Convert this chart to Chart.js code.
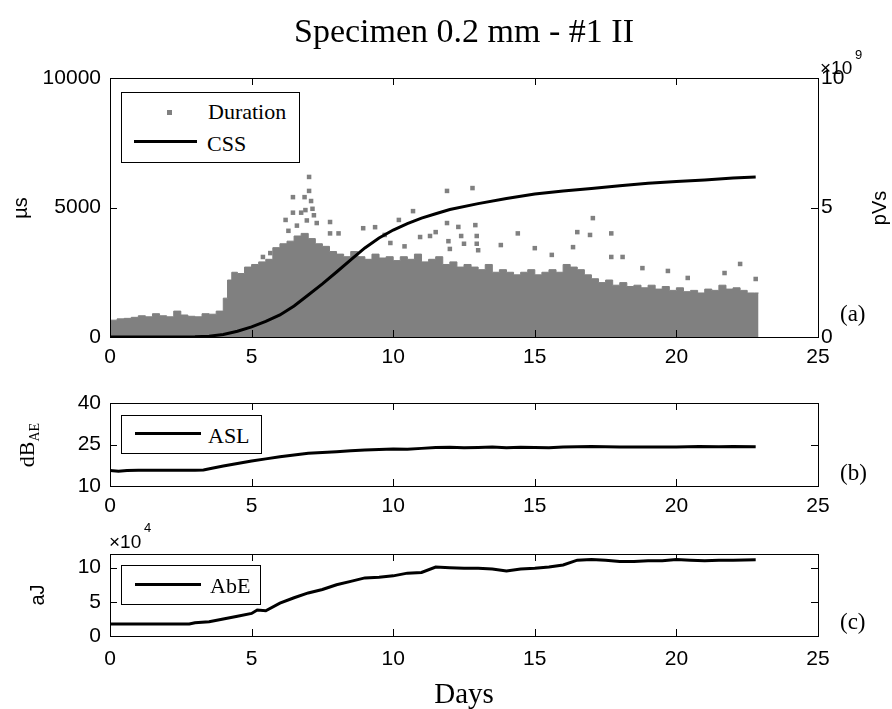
<!DOCTYPE html>
<html>
<head>
<meta charset="utf-8">
<script src="https://cdn.jsdelivr.net/npm/chart.js@4.4.1/dist/chart.umd.min.js"></script>
<style>
body { margin: 0; background: #fff; }
#wrap { position: relative; width: 892px; height: 709px; overflow: hidden; background: #fff; }
canvas { position: absolute; left: 0; }
.t { position: absolute; white-space: nowrap; color: #000; line-height: 1; }
.serif { font-family: 'Liberation Serif', 'Times New Roman', serif; }
.sans { font-family: 'Liberation Sans', Arial, sans-serif; }
.vert { transform: translate(-50%, -50%) rotate(-90deg); }
.mid { transform: translateY(-50%); }
.legend { position: absolute; border: 1px solid #000; background: #fff; box-sizing: border-box; z-index: 2; }
.legend .ln { position: absolute; height: 3px; background: #000; }
.legend .sq { position: absolute; width: 5px; height: 5px; background: #808080; }
.legend .t { font-size: 22px; }
</style>
</head>
<body>
<div id="wrap">
  <canvas id="cA" width="892" height="370" style="top:0"></canvas>
  <canvas id="cB" width="892" height="140" style="top:380px"></canvas>
  <canvas id="cC" width="892" height="150" style="top:530px"></canvas>

  <div class="t serif" style="left:0;width:928px;text-align:center;top:14px;font-size:34px;">Specimen 0.2 mm - #1 II</div>

  <div class="t sans vert" style="left:20px;top:208px;font-size:20px;">µs</div>
  <div class="t sans vert" style="left:879px;top:208px;font-size:20px;">pVs</div>
  <div class="t serif vert" style="left:29px;top:445px;font-size:22px;">dB<sub style="font-size:14px;">AE</sub></div>
  <div class="t sans vert" style="left:37px;top:595px;font-size:20px;">aJ</div>

  <div class="t sans" style="left:820px;top:58px;font-size:19px;">×10</div>
  <div class="t sans" style="left:855px;top:48px;font-size:13px;">9</div>
  <div class="t sans" style="left:109px;top:532px;font-size:19px;">×10</div>
  <div class="t sans" style="left:144px;top:521px;font-size:13px;">4</div>

  <div class="t serif mid" style="left:840px;top:313px;font-size:23px;">(a)</div>
  <div class="t serif mid" style="left:840px;top:472px;font-size:23px;">(b)</div>
  <div class="t serif mid" style="left:840px;top:621px;font-size:23px;">(c)</div>

  <div class="t serif" style="left:0;width:928px;text-align:center;top:679px;font-size:29px;">Days</div>

  <div class="legend" style="left:121px;top:92px;width:179px;height:71px;">
    <div class="sq" style="left:45px;top:17px;"></div>
    <div class="t serif mid" id="legA1" style="left:86px;top:19px;"></div>
    <div class="ln" style="left:12px;top:47px;width:63px;"></div>
    <div class="t serif mid" id="legA2" style="left:85px;top:51px;"></div>
  </div>
  <div class="legend" style="left:121px;top:415px;width:141px;height:39px;">
    <div class="ln" style="left:13px;top:16px;width:66px;"></div>
    <div class="t serif mid" id="legB" style="left:86px;top:20px;"></div>
  </div>
  <div class="legend" style="left:121px;top:565px;width:140px;height:40px;">
    <div class="ln" style="left:13px;top:17px;width:66px;"></div>
    <div class="t serif mid" id="legC" style="left:88px;top:20px;"></div>
  </div>
</div>

<script>
// tick values
const xTicks = [0, 5, 10, 15, 20, 25];
const durTicks = [0, 5000, 10000];
const cssTicks = [0, 5, 10];
const aslTicks = [10, 25, 40];
const abeTicks = [0, 5, 10];

// Duration: top edge of the dense cloud (µs)
const durDays = [0, 0.25, 0.5, 0.75, 1, 1.25, 1.5, 1.75, 2, 2.25, 2.5, 2.75, 3, 3.25, 3.5, 3.75, 4, 4.15,
  4.3, 4.5, 4.75, 5, 5.25, 5.5, 5.75, 6, 6.25, 6.5, 6.75, 7, 7.25, 7.5, 7.75, 8, 8.25, 8.5, 8.75, 9,
  9.25, 9.5, 9.75, 10, 10.25, 10.5, 10.75, 11, 11.25, 11.5, 11.75, 12, 12.25, 12.5, 12.75, 13, 13.25,
  13.5, 13.75, 14, 14.25, 14.5, 14.75, 15, 15.25, 15.5, 15.75, 16, 16.25, 16.5, 16.75, 17, 17.25, 17.5,
  17.75, 18, 18.25, 18.5, 18.75, 19, 19.25, 19.5, 19.75, 20, 20.25, 20.5, 20.75, 21, 21.25, 21.5, 21.75,
  22, 22.25, 22.5, 22.75, 22.9];
const durTop = [850, 650, 700, 720, 760, 820, 780, 900, 820, 780, 1000, 850, 800, 780, 900, 880, 1000, 1500,
  2200, 2500, 2450, 2700, 2800, 2900, 3000, 3450, 3600, 3700, 3900, 4000, 3800, 3600, 3500, 3300, 3200, 3100, 3300, 3100,
  3000, 3200, 3050, 3100, 2950, 3100, 3000, 3200, 2900, 3000, 3100, 2800, 2900, 2700, 2800, 2700, 2600,
  2800, 2500, 2600, 2500, 2400, 2500, 2600, 2400, 2500, 2600, 2500, 2800, 2700, 2600, 2400, 2250, 2100,
  2200, 2000, 2100, 1950, 2000, 1900, 2000, 1850, 1950, 1800, 1900, 1750, 1800, 1700, 1850, 1800, 2000,
  1850, 1900, 1800, 1700, 1700];

// Duration: isolated points above the cloud
const outDays = [5.4, 5.66, 6.2, 6.3, 6.46, 6.6, 6.75, 6.46, 6.87, 6.9, 6.95, 7.1, 7.15, 7.03, 7.03, 7.2, 7.3,
  7.77, 7.77, 8.07, 8.94, 9.36, 9.7, 9.9, 10.2, 10.4, 10.7, 10.95, 11.3, 11.5, 11.9, 11.9, 11.95, 12.0,
  12.3, 12.4, 12.5, 12.8, 12.9, 12.95, 12.95, 13.0, 13.8, 14.4, 15.0, 15.6, 16.35, 16.5, 16.95, 17.05,
  17.7, 17.7, 18.1, 18.8, 19.7, 20.4, 21.7, 22.25, 22.8];
const outVals = [3090, 3240, 4520, 4100, 4800, 4300, 4800, 5400, 5400, 4900, 4500, 5250, 4950, 5640, 6180, 4700, 4400,
  4440, 4000, 4000, 4200, 4240, 3940, 3630, 4520, 3500, 4860, 3860, 3900, 4050, 5640, 4400, 3700, 3400,
  4250, 3900, 3600, 5750, 4320, 3900, 3600, 3350, 3550, 4000, 3430, 3170, 3470, 4050, 3940, 4590,
  4000, 3090, 3090, 2660, 2550, 2280, 2470, 2820, 2240];

// CSS (×10^9 pVs)
const cssDays = [0, 1, 2, 3, 3.5, 4, 4.5, 5, 5.5, 6, 6.5, 7, 7.5, 8, 8.5, 9, 9.5, 10, 10.5, 11, 11.5, 12,
  13, 14, 15, 16, 17, 18, 19, 20, 21, 22, 22.8];
const cssVals = [0, 0, 0, 0.01, 0.03, 0.1, 0.22, 0.39, 0.6, 0.85, 1.2, 1.62, 2.05, 2.51, 2.98, 3.44, 3.82, 4.13,
  4.38, 4.59, 4.76, 4.92, 5.15, 5.35, 5.52, 5.64, 5.73, 5.84, 5.94, 6.0, 6.06, 6.14, 6.18];

// ASL (dB_AE)
const aslDays = [0, 0.3, 0.6, 1, 2, 3, 3.3, 3.6, 4, 4.5, 5, 5.5, 6, 6.5, 7, 7.5, 8, 8.5, 9, 9.5, 10, 10.5,
  11, 11.5, 12, 12.5, 13, 13.5, 14, 14.5, 15, 15.5, 16, 16.5, 17, 18, 19, 20, 20.8, 21.5, 22, 22.8];
const aslVals = [15.6, 15.3, 15.6, 15.7, 15.7, 15.7, 15.8, 16.4, 17.2, 18.1, 19.0, 19.8, 20.6, 21.2, 21.8, 22.1,
  22.4, 22.7, 23.0, 23.2, 23.4, 23.3, 23.6, 23.9, 24.0, 23.8, 23.9, 24.1, 23.8, 24.0, 23.9, 23.8, 24.1,
  24.2, 24.3, 24.1, 24.1, 24.1, 24.3, 24.2, 24.3, 24.2];

// AbE (×10^4 aJ)
const abeDays = [0, 1, 2, 2.8, 3, 3.5, 4, 4.5, 5, 5.2, 5.5, 6, 6.5, 7, 7.5, 8, 8.5, 9, 9.5, 10, 10.5, 11,
  11.5, 12, 12.5, 13, 13.5, 14, 14.5, 15, 15.5, 16, 16.5, 17, 17.5, 18, 18.5, 19, 19.5, 20, 20.5, 21, 21.5,
  22, 22.8];
const abeVals = [1.75, 1.75, 1.75, 1.75, 1.95, 2.1, 2.5, 2.9, 3.3, 3.8, 3.7, 4.8, 5.6, 6.3, 6.8, 7.5, 8.0, 8.5,
  8.6, 8.8, 9.2, 9.3, 10.1, 10.0, 9.9, 9.9, 9.8, 9.5, 9.8, 9.9, 10.1, 10.4, 11.1, 11.2, 11.1, 10.9, 10.9,
  11.0, 11.0, 11.2, 11.1, 11.0, 11.1, 11.1, 11.15];

const pts = (xs, ys) => xs.map((x, i) => ({ x, y: ys[i] }));
const tickFont = { family: "'Liberation Sans', Arial, sans-serif", size: 21 };

// MATLAB style box with inward ticks
const boxTicks = {
  id: 'boxTicks',
  afterDatasetsDraw(chart) {
    const { ctx, chartArea: a, scales } = chart;
    const L = 7;
    ctx.save();
    ctx.strokeStyle = '#000';
    ctx.lineWidth = 1;
    const seg = (x1, y1, x2, y2) => { ctx.beginPath(); ctx.moveTo(x1, y1); ctx.lineTo(x2, y2); ctx.stroke(); };
    scales.x.ticks.forEach(t => {
      const px = Math.round(scales.x.getPixelForValue(t.value)) + 0.5;
      seg(px, a.bottom, px, a.bottom - L);
      seg(px, a.top, px, a.top + L);
    });
    scales.y.ticks.forEach(t => {
      const py = Math.round(scales.y.getPixelForValue(t.value)) + 0.5;
      seg(a.left, py, a.left + L, py);
      if (!scales.y1) seg(a.right, py, a.right - L, py);
    });
    if (scales.y1) {
      scales.y1.ticks.forEach(t => {
        const py = Math.round(scales.y1.getPixelForValue(t.value)) + 0.5;
        seg(a.right, py, a.right - L, py);
      });
    }
    ctx.strokeRect(Math.round(a.left) + 0.5, Math.round(a.top) + 0.5, Math.round(a.right - a.left), Math.round(a.bottom - a.top));
    ctx.restore();
  }
};

function xScale(h, pad) {
  return {
    type: 'linear', min: 0, max: 25,
    grid: { display: false, drawTicks: false }, border: { display: false },
    afterBuildTicks: s => { s.ticks = xTicks.map(v => ({ value: v })); },
    afterFit: s => { s.height = h; },
    ticks: { color: '#000', font: tickFont, padding: pad, maxRotation: 0, autoSkip: false, callback: v => String(v) }
  };
}
function yScale(min, max, vals, pos, w) {
  return {
    type: 'linear', position: pos, min, max,
    grid: { display: false, drawTicks: false }, border: { display: false },
    afterBuildTicks: s => { s.ticks = vals.map(v => ({ value: v })); },
    afterFit: s => { s.width = w; },
    ticks: { color: '#000', font: tickFont, padding: pos === 'left' ? 9 : 3, autoSkip: false, callback: v => String(v) }
  };
}

const base = { responsive: false, animation: false, events: [],
  plugins: { legend: { display: false }, tooltip: { enabled: false } } };

const dsCSS = { type: 'line', label: 'CSS', data: pts(cssDays, cssVals), yAxisID: 'y1',
  borderColor: '#000', borderWidth: 3, pointRadius: 0, order: 0 };
const dsOut = { type: 'scatter', label: 'Duration', data: pts(outDays, outVals), yAxisID: 'y',
  backgroundColor: '#808080', borderWidth: 0, pointStyle: 'rect', pointRadius: 3.2, order: 1 };
const dsDur = { type: 'line', label: 'Duration', data: pts(durDays, durTop), yAxisID: 'y',
  borderColor: '#808080', borderWidth: 1, backgroundColor: '#808080', fill: 'origin', stepped: 'after',
  pointRadius: 0, order: 2 };

new Chart(document.getElementById('cA'), {
  type: 'scatter',
  data: { datasets: [dsCSS, dsOut, dsDur] },
  options: { ...base, layout: { padding: { top: 78, left: 0, right: 0, bottom: 0 } },
    scales: { x: xScale(33, 8), y: yScale(0, 10000, durTicks, 'left', 110), y1: yScale(0, 10, cssTicks, 'right', 74) } },
  plugins: [boxTicks]
});

new Chart(document.getElementById('cB'), {
  type: 'scatter',
  data: { datasets: [{ type: 'line', label: 'ASL', data: pts(aslDays, aslVals), borderColor: '#000',
    borderWidth: 3, pointRadius: 0 }] },
  options: { ...base, layout: { padding: { top: 23, left: 0, right: 74, bottom: 0 } },
    scales: { x: xScale(34, 8), y: yScale(10, 40, aslTicks, 'left', 110) } },
  plugins: [boxTicks]
});

new Chart(document.getElementById('cC'), {
  type: 'scatter',
  data: { datasets: [{ type: 'line', label: 'AbE', data: pts(abeDays, abeVals), borderColor: '#000',
    borderWidth: 3, pointRadius: 0 }] },
  options: { ...base, layout: { padding: { top: 24, left: 0, right: 74, bottom: 0 } },
    scales: { x: xScale(44, 11), y: yScale(0, 12, abeTicks, 'left', 110) } },
  plugins: [boxTicks]
});

document.getElementById('legA1').textContent = dsDur.label;
document.getElementById('legA2').textContent = dsCSS.label;
document.getElementById('legB').textContent = 'ASL';
document.getElementById('legC').textContent = 'AbE';
</script>
</body>
</html>
